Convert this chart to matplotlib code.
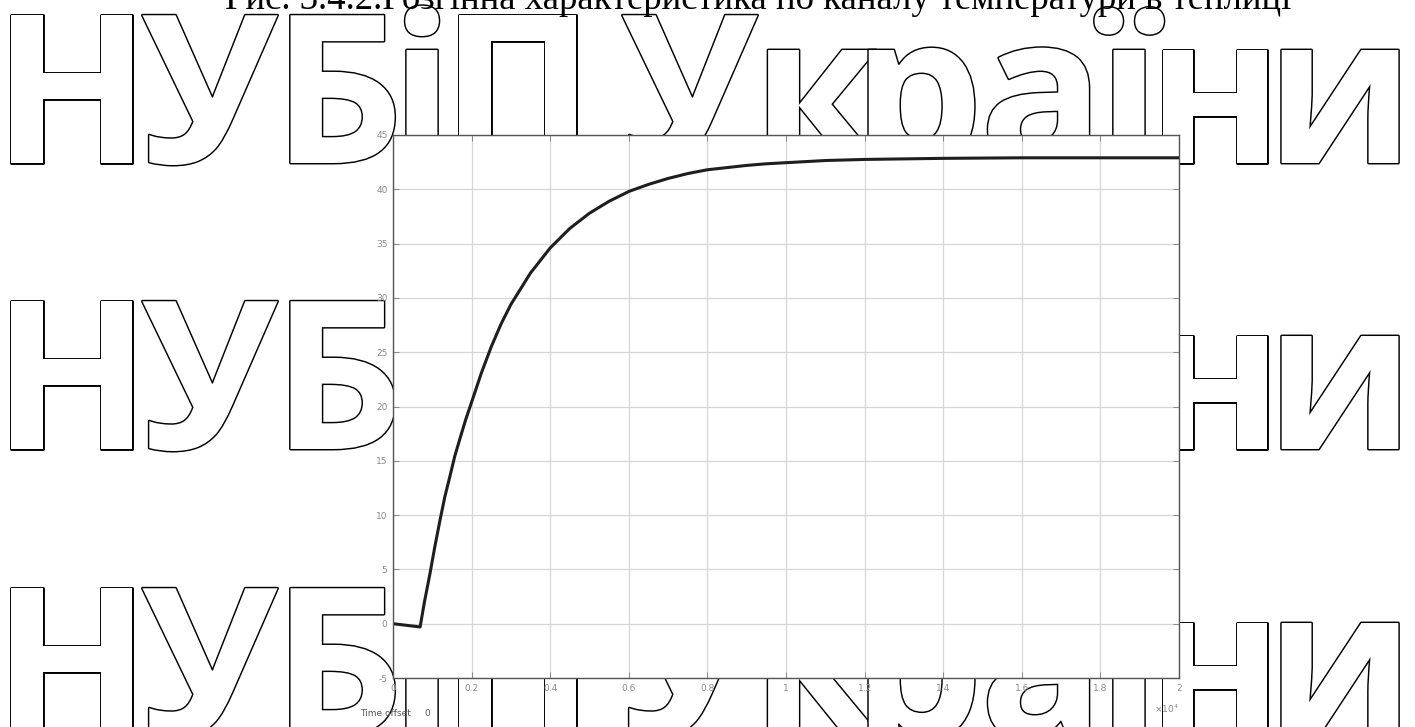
import matplotlib
matplotlib.use("Agg")
import matplotlib.pyplot as plt
from matplotlib import patheffects as pe
from matplotlib.ticker import FixedLocator

# ---- data ----
time_s = [0, 690, 800, 940, 1070, 1200, 1320, 1450, 1570, 1700, 1850, 2000,
          2250, 2500, 2750, 3000, 3500, 4000, 4500, 5000, 5500, 6000, 6500,
          7000, 7500, 8000, 8500, 9000, 9500, 10000, 11000, 12000, 14000,
          16000, 18000, 20000]
temperature = [0.0, -0.3, 2.0, 4.6, 7.2, 9.6, 11.7, 13.6, 15.4, 17.0, 18.8, 20.4,
               23.1, 25.5, 27.6, 29.4, 32.3, 34.6, 36.4, 37.8, 38.9, 39.8, 40.45,
               41.0, 41.45, 41.8, 42.0, 42.2, 42.35, 42.45, 42.65, 42.75, 42.85,
               42.9, 42.9, 42.9]
x_ticks = [0, 2000, 4000, 6000, 8000, 10000, 12000, 14000, 16000, 18000, 20000]
x_tick_labels = ["0", "0.2", "0.4", "0.6", "0.8", "1", "1.2", "1.4", "1.6", "1.8", "2"]
y_ticks = [-5, 0, 5, 10, 15, 20, 25, 30, 35, 40, 45]
y_tick_labels = ["-5", "0", "5", "10", "15", "20", "25", "30", "35", "40", "45"]

title_prefix = "Рис. "
title_rest = "3.4.2.Розгінна характеристика по каналу температури в теплиці"
title_anchor = "3.4.2.Розгінна характеристика по каналу температу"
wm_letters = ["Н", "У", "Б", "і", "П", "У", "к", "р", "а", "ї", "н", "и"]
wm_centers = [72, 210, 338, 422, 518, 690, 816, 918, 1042, 1129, 1215, 1340]
wm_baselines = [163, 449, 736]

W, H = 1415, 727
fig = plt.figure(figsize=(W / 100, H / 100), dpi=100)
fig.patch.set_facecolor("white")
renderer = fig.canvas.get_renderer()

# watermark (outlined letters, behind the axes)
for base in wm_baselines:
    for ch, cx in zip(wm_letters, wm_centers):
        fig.text(cx / W, 1 - base / H, ch, ha="center", va="baseline",
                 fontsize=149, family="Open Sans", fontweight="bold",
                 color="white", zorder=-5,
                 path_effects=[pe.Stroke(linewidth=2.1, foreground="black",
                                         joinstyle="round"), pe.Normal()])

# title (partially cut at the top edge): size it so the anchor part spans ~300..1100 px
probe = fig.text(0, 0, title_anchor, fontsize=20, family="Liberation Serif")
w20 = probe.get_window_extent(renderer).width
probe.remove()
title_fs = 20 * 800 / w20
probe = fig.text(0, 0, title_prefix.strip() + " ", fontsize=title_fs, family="Liberation Serif")
wpre = fig.text(0, 0, "Рис. 3", fontsize=title_fs, family="Liberation Serif")
w_pre = wpre.get_window_extent(renderer).width - fig.text(
    0, 0, "3", fontsize=title_fs, family="Liberation Serif").get_window_extent(renderer).width
for t in list(fig.texts)[-3:]:
    t.remove()
fig.text((300 - w_pre) / W, 1 - 9 / H, title_prefix + title_rest, ha="left",
         va="baseline", fontsize=title_fs, family="Liberation Serif",
         color="black", zorder=5)

ax = fig.add_axes([393 / W, 1 - 678 / H, (1179 - 393) / W, (678 - 135) / H])
ax.set_facecolor("white")
ax.plot(time_s, temperature, color="#1e1e1e", lw=2.2, solid_joinstyle="round")
ax.set_xlim(0, 20000)
ax.set_ylim(-5, 45)
ax.xaxis.set_major_locator(FixedLocator(x_ticks))
ax.yaxis.set_major_locator(FixedLocator(y_ticks))
ax.set_xticklabels(x_tick_labels)
ax.set_yticklabels(y_tick_labels)
ax.grid(True, color="#d6d6d6", lw=0.9)
ax.tick_params(direction="in", length=4, width=0.7, color="#888888",
               labelsize=6.5, labelcolor="#8a8a8a", pad=4,
               top=True, right=True)
for s in ax.spines.values():
    s.set_color("#555555")
    s.set_linewidth(1.0)

ax.text(1.0, -0.045, r"$\times10^4$", transform=ax.transAxes, ha="right",
        va="top", fontsize=6.5, color="#8a8a8a")
fig.text(360 / W, 1 - 713 / H, "Time offset", ha="left", va="center",
         fontsize=6.5, color="#555555")
fig.text(424 / W, 1 - 713 / H, "0", ha="left", va="center",
         fontsize=6.5, color="#555555")

fig.savefig("out.png", dpi=100)
